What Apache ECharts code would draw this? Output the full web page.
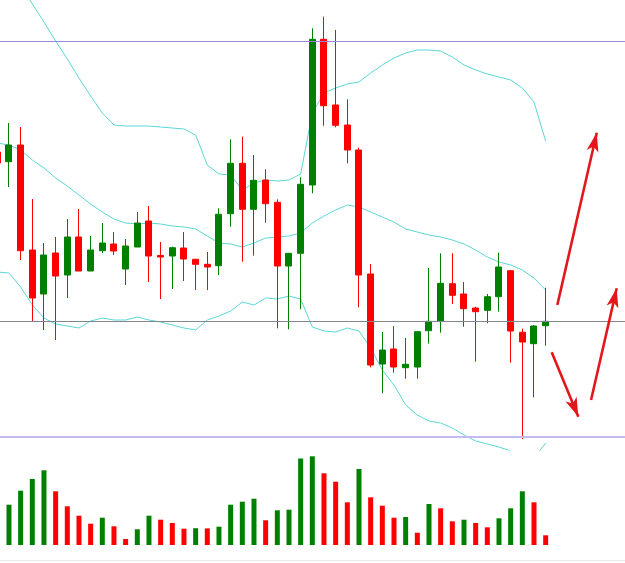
<!DOCTYPE html>
<html><head><meta charset="utf-8">
<script src="https://cdn.jsdelivr.net/npm/echarts@6/dist/echarts.min.js"></script>
<style>html,body{margin:0;padding:0;background:#fff;}#c{width:625px;height:563px;}</style>
</head><body><div id="c"></div>
<script>
// bar slots (index along the time axis)
const slots = Array.from({length: 48}, (_, i) => i);
const opens  = [348,338.3,355,250,206,247,225,263,229,249.3,256,231,253,279,244.5,244,252,240.7,235.7,234.3,286.3,336.7,290.7,320,297.7,234,246.7,315,460.7,395,375,350,226,136,151,132.3,133,169.3,178.7,216.3,206,192,189.7,203.3,229.3,167.7,156.3,174.3];
const closes = [337,355,249.3,202,245,224,263,229,250,257,249,254,277,244,243,252.3,241,235.7,233,285.7,336.7,290.7,319.7,296.3,234,246.7,315.7,460.7,394.3,374.7,350,225,135,150,133,135.7,168.3,178.7,216.7,204.7,191.3,188.3,203.3,233,169,158,174,178.7];
const lows   = [332,313,240,179,170,160,202,229,229,247,245,215,253,218,201,211,219,210,210,225,273.3,238.3,244.3,277.3,171.7,170.7,190.7,306.7,374.3,372.7,336.7,192.7,132.7,106.7,127.3,121.3,121.3,156.3,167.3,196,173.3,138.3,176.7,188.3,137.3,61,102.7,154.3];
const highs  = [352,377,373,301,257,263,281,291,264,277,268,261,288,294,258,253.3,268,241,248,291.7,360.7,363.3,345,330.7,300.7,247,322.7,471.7,483.3,470,400.7,352.3,236,168,174,162,169,232,246.7,246.7,218,193.3,206,247.3,230,171.3,175,212.3];
const upperBand  = [550,533,515,496,478,459,441,422,404,387,375,374,374,374,373,372,371,365,335,326,325,310,317,320,319,320,326,387,407,412,416,418,427,435,442,447,450,450,449,443,435,430,426,423,420,412,398,359];
const middleBand = [357,355,350,340,332,322,314,305,296,288,281,277,276,277,276,274,273,271,264,257,256,253,257,262,263,264,267,277,284,290,295,293,288,283,278,271,268,265,263,260,256,250,243,238,235,230,222,210];
const lowerBand  = [228,227,213,195,182,176,174,172,179,182,180,180,183,180,178,175,172,170,180,184,189,198,195,202,201,204,201,173,169,168,172,169,152,130,115,95,85,79,77,72,65,59,56,53,49,42,42,57];
const volumes = [35,40.3,54.3,66,74.7,53.7,38.7,29.3,21.3,27.3,18.7,6,15.7,29.3,25.3,22,16.3,16.8,16.6,18.3,40.3,43.3,46.3,24.7,34.7,35.3,86.5,88.7,71.7,63.3,42.7,76,47.7,39.3,27.3,28,12.3,41,36.7,23.7,25.3,22,17.7,26.7,36.7,53.7,42.7,9.7];
// horizontal price levels
const levels = [459, 179, 63];
// arrow annotations: [slot, price] start and end
const arrowStarts = [[48.0,195],[47.52,147.7],[50.89,100]];
const arrowEnds   = [[51.38,367.3],[49.80,83.3],[53.09,211.7]];

const GREEN = '#008000', RED = '#ff0000', BAND = '#5cd6d6', ARROW = '#e3161c';
const X_MIN = 0.2314, X_MAX = 53.8;

const candleData = slots.map(i => [i, opens[i], closes[i], lows[i], highs[i]]);
const pair = arr => slots.map(i => [i, arr[i]]);
const volData = slots.map(i => ({
  value: [i, volumes[i]],
  itemStyle: { color: (i === 0 || volumes[i] > volumes[i - 1]) ? GREEN : RED }
}));

const levelStyles = [
  { color: '#9a86d8', width: 1, type: 'solid' },
  { color: '#85858f', width: 1, type: 'solid' },
  { color: '#c7baee', width: 2, type: 'solid' }
];

const chart = echarts.init(document.getElementById('c'), null, { renderer: 'canvas' });
chart.setOption({
  animation: false,
  backgroundColor: '#ffffff',
  grid: [
    { left: 0, width: 625, top: 0, height: 450 },
    { left: 0, width: 625, top: 445, height: 100 }
  ],
  xAxis: [
    { type: 'value', gridIndex: 0, min: X_MIN, max: X_MAX, show: false },
    { type: 'value', gridIndex: 1, min: X_MIN, max: X_MAX, show: false }
  ],
  yAxis: [
    { type: 'value', gridIndex: 0, min: 50, max: 500, show: false },
    { type: 'value', gridIndex: 1, min: 0, max: 100, show: false }
  ],
  graphic: [
    { type: 'rect', left: 0, top: 560, shape: { width: 625, height: 1 }, style: { fill: '#e8e8e8' }, silent: true }
  ],
  series: [
    {
      type: 'line', name: 'upper', xAxisIndex: 0, yAxisIndex: 0, data: pair(upperBand),
      symbol: 'none', lineStyle: { color: BAND, width: 1 }, silent: true, z: 2,
      markLine: {
        silent: true, z: 10,
        symbol: ['none', 'arrow'], symbolSize: 16,
        label: { show: false },
        lineStyle: { color: ARROW, width: 2.6, type: 'solid' },
        data: arrowStarts.map((s, i) => [
          { coord: s, symbol: 'none' },
          { coord: arrowEnds[i], symbol: 'arrow', symbolSize: [9, 19], itemStyle: { color: ARROW } }
        ])
      }
    },
    {
      type: 'line', name: 'middle', xAxisIndex: 0, yAxisIndex: 0, data: pair(middleBand),
      symbol: 'none', lineStyle: { color: BAND, width: 1 }, silent: true, z: 2,
      markLine: {
        silent: true, symbol: 'none', label: { show: false },
        data: levels.map((v, i) => ({ yAxis: v, lineStyle: levelStyles[i] }))
      }
    },
    {
      type: 'line', name: 'lower', xAxisIndex: 0, yAxisIndex: 0, data: pair(lowerBand),
      symbol: 'none', lineStyle: { color: BAND, width: 1 }, silent: true, z: 2
    },
    {
      type: 'candlestick', name: 'price', xAxisIndex: 0, yAxisIndex: 0,
      data: candleData, encode: { x: 0, y: [1, 2, 3, 4] },
      barWidth: 6.5, z: 3,
      itemStyle: { color: GREEN, color0: RED, borderColor: GREEN, borderColor0: RED, borderWidth: 1 }
    },
    {
      type: 'bar', name: 'volume', xAxisIndex: 1, yAxisIndex: 1,
      data: volData, barWidth: 5, silent: true
    }
  ]
});
</script>
</body></html>
